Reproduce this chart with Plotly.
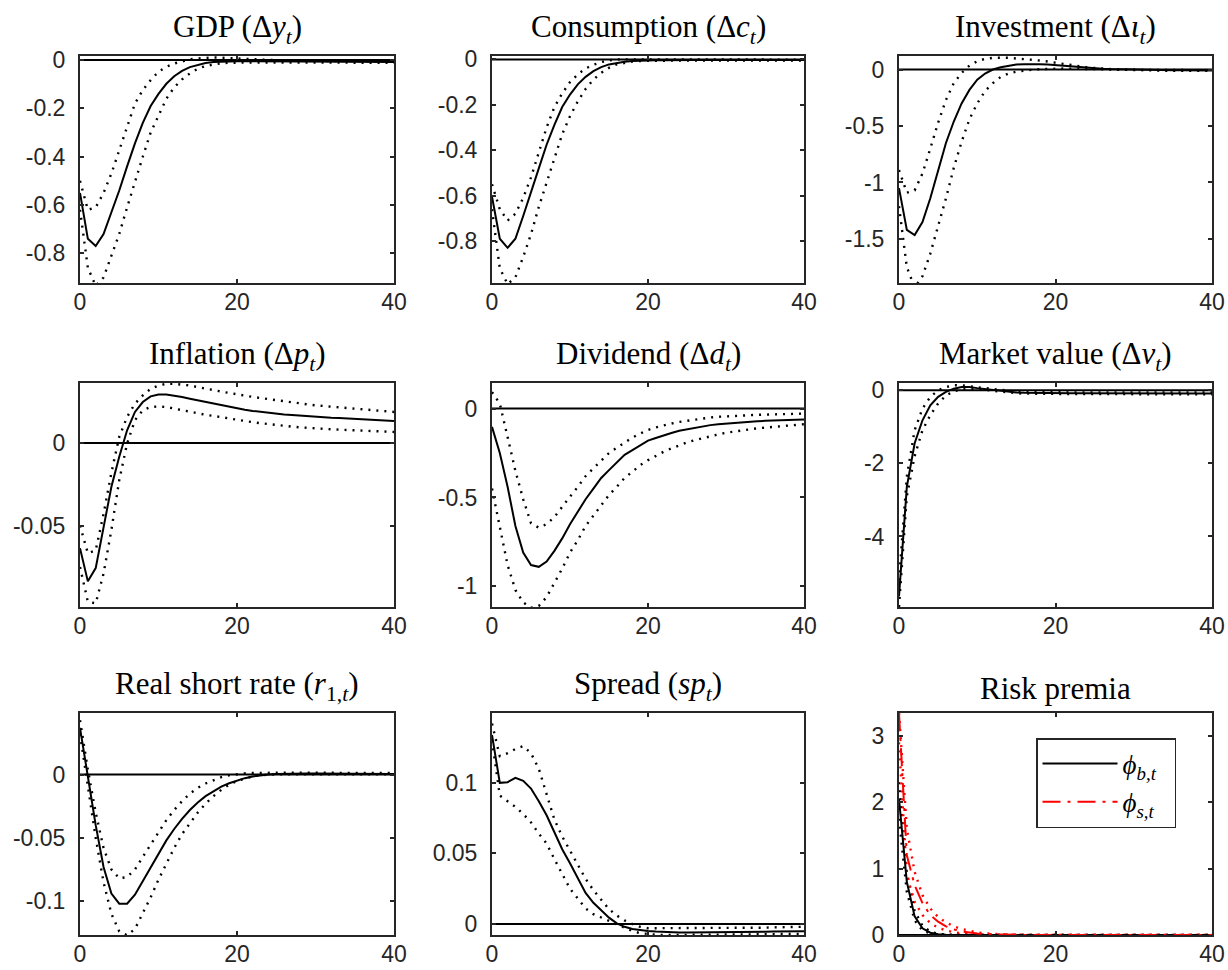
import plotly.graph_objects as go

W, H = 1228, 970
t = list(range(41))

titles = [
    "GDP (Δ<i>y</i><sub><i>t</i></sub>)",
    "Consumption (Δ<i>c</i><sub><i>t</i></sub>)",
    "Investment (Δ<i>ι</i><sub><i>t</i></sub>)",
    "Inflation (Δ<i>p</i><sub><i>t</i></sub>)",
    "Dividend (Δ<i>d</i><sub><i>t</i></sub>)",
    "Market value (Δ<i>v</i><sub><i>t</i></sub>)",
    "Real short rate (<i>r</i><sub>1,<i>t</i></sub>)",
    "Spread (<i>sp</i><sub><i>t</i></sub>)",
    "Risk premia",
]
legend_names = ["<i>ϕ</i><sub><i>b,t</i></sub>&nbsp;&nbsp;", "<i>ϕ</i><sub><i>s,t</i></sub>&nbsp;&nbsp;"]

# ---------------- data (t = 0..40) ----------------
gdp_mid = [-0.55, -0.74, -0.77, -0.72, -0.63, -0.54, -0.44, -0.345, -0.26, -0.19, -0.14, -0.098, -0.067, -0.045, -0.029, -0.019, -0.012, -0.008, -0.006, -0.005, -0.005,
           -0.005, -0.005, -0.006, -0.006, -0.006, -0.006, -0.007, -0.007, -0.007, -0.007, -0.007, -0.007, -0.008, -0.008, -0.008, -0.008, -0.008, -0.008, -0.008, -0.008]
gdp_hi = [-0.50, -0.62, -0.61, -0.55, -0.47, -0.37, -0.27, -0.18, -0.124, -0.083, -0.048, -0.028, -0.014, -0.004, 0.003, 0.007, 0.010, 0.011, 0.010, 0.008, 0.006,
          0.004, 0.003, 0.002, 0.001, 0.0, -0.001, -0.002, -0.002, -0.003, -0.003, -0.004, -0.004, -0.004, -0.005, -0.005, -0.005, -0.005, -0.005, -0.005, -0.005]
gdp_lo = [-0.62, -0.86, -0.935, -0.90, -0.81, -0.72, -0.61, -0.50, -0.40, -0.30, -0.23, -0.16, -0.113, -0.08, -0.055, -0.036, -0.024, -0.017, -0.013, -0.011, -0.010,
          -0.010, -0.010, -0.010, -0.010, -0.010, -0.011, -0.011, -0.011, -0.011, -0.011, -0.011, -0.011, -0.011, -0.011, -0.011, -0.011, -0.011, -0.011, -0.011, -0.011]

con_mid = [-0.605, -0.79, -0.83, -0.79, -0.69, -0.59, -0.48, -0.376, -0.288, -0.21, -0.155, -0.11, -0.077, -0.052, -0.034, -0.022, -0.015, -0.010, -0.007, -0.005, -0.004,
           -0.004, -0.004, -0.003, -0.003, -0.003, -0.003, -0.003, -0.003, -0.003, -0.003, -0.003, -0.003, -0.003, -0.003, -0.003, -0.003, -0.003, -0.003, -0.003, -0.003]
con_hi = [-0.55, -0.66, -0.71, -0.68, -0.61, -0.52, -0.41, -0.30, -0.21, -0.15, -0.10, -0.066, -0.040, -0.024, -0.012, -0.004, 0.0, 0.001, 0.001, 0.0, 0.0,
          0.0, -0.001, -0.001, -0.001, -0.001, -0.001, -0.001, -0.001, -0.001, -0.001, -0.001, -0.001, -0.001, -0.001, -0.001, -0.001, -0.001, -0.001, -0.001, -0.001]
con_lo = [-0.66, -0.92, -0.99, -0.96, -0.87, -0.77, -0.65, -0.54, -0.43, -0.33, -0.25, -0.185, -0.13, -0.089, -0.059, -0.037, -0.022, -0.015, -0.009, -0.007, -0.006,
          -0.006, -0.006, -0.005, -0.005, -0.005, -0.005, -0.005, -0.005, -0.005, -0.005, -0.005, -0.005, -0.005, -0.005, -0.005, -0.005, -0.005, -0.005, -0.005, -0.005]

inv_mid = [-1.05, -1.42, -1.465, -1.35, -1.14, -0.89, -0.65, -0.46, -0.30, -0.18, -0.09, -0.035, 0.0, 0.02, 0.035, 0.045, 0.047, 0.05, 0.047, 0.044, 0.038,
           0.033, 0.027, 0.02, 0.015, 0.012, 0.008, 0.005, 0.003, 0.0, -0.002, -0.003, -0.004, -0.005, -0.006, -0.006, -0.007, -0.007, -0.008, -0.008, -0.008]
inv_hi = [-0.89, -1.09, -1.07, -0.92, -0.70, -0.47, -0.27, -0.12, -0.03, 0.035, 0.074, 0.095, 0.104, 0.106, 0.104, 0.098, 0.094, 0.09, 0.08, 0.071, 0.06,
          0.05, 0.038, 0.03, 0.02, 0.014, 0.008, 0.004, 0.0, -0.002, -0.003, -0.004, -0.005, -0.005, -0.005, -0.005, -0.005, -0.005, -0.005, -0.005, -0.005]
inv_lo = [-1.21, -1.75, -1.93, -1.83, -1.63, -1.39, -1.14, -0.87, -0.64, -0.44, -0.30, -0.19, -0.12, -0.065, -0.035, -0.018, -0.008, -0.002, 0.003, 0.006, 0.009,
          0.009, 0.008, 0.006, 0.004, 0.002, 0.0, -0.002, -0.003, -0.005, -0.006, -0.007, -0.008, -0.009, -0.010, -0.010, -0.011, -0.011, -0.012, -0.012, -0.012]

inf_mid = [-0.0637, -0.0837, -0.0757, -0.0506, -0.0265, -0.0084, 0.0076, 0.0187, 0.0247, 0.0281, 0.0293, 0.0293, 0.0287, 0.0277, 0.0267, 0.0257, 0.0247, 0.0237, 0.0227, 0.0217, 0.0207,
           0.0200, 0.0193, 0.0187, 0.0182, 0.0177, 0.0172, 0.0168, 0.0164, 0.0160, 0.0157, 0.0155, 0.0152, 0.0150, 0.0147, 0.0145, 0.0143, 0.0141, 0.0139, 0.0136, 0.0133]
inf_hi = [-0.050, -0.0667, -0.065, -0.043, -0.018, 0.0036, 0.0157, 0.0237, 0.0287, 0.0327, 0.0347, 0.0357, 0.0357, 0.0353, 0.0347, 0.0337, 0.0327, 0.0317, 0.0310, 0.0302, 0.0293,
          0.0285, 0.0278, 0.0271, 0.0264, 0.0257, 0.0251, 0.0245, 0.0239, 0.0233, 0.0227, 0.0223, 0.0219, 0.0215, 0.0211, 0.0207, 0.0203, 0.0199, 0.0195, 0.0191, 0.0187]
inf_lo = [-0.075, -0.096, -0.097, -0.079, -0.0526, -0.0225, -0.0004, 0.0137, 0.0197, 0.0217, 0.0220, 0.0217, 0.0207, 0.0197, 0.0187, 0.0177, 0.0170, 0.0163, 0.0155, 0.0146, 0.0137,
          0.0131, 0.0125, 0.0119, 0.0113, 0.0106, 0.0102, 0.0098, 0.0094, 0.0090, 0.0086, 0.0084, 0.0082, 0.0080, 0.0078, 0.0076, 0.0074, 0.0072, 0.0070, 0.0068, 0.0066]

div_mid = [-0.103, -0.25, -0.44, -0.66, -0.81, -0.88, -0.89, -0.86, -0.80, -0.73, -0.65, -0.58, -0.51, -0.45, -0.39, -0.346, -0.30, -0.26, -0.234, -0.206, -0.18,
           -0.165, -0.15, -0.137, -0.125, -0.116, -0.107, -0.10, -0.093, -0.088, -0.084, -0.08, -0.077, -0.074, -0.071, -0.069, -0.067, -0.065, -0.064, -0.063, -0.062]
div_hi = [0.093, 0.028, -0.16, -0.35, -0.51, -0.645, -0.67, -0.65, -0.61, -0.55, -0.495, -0.44, -0.38, -0.336, -0.29, -0.25, -0.22, -0.19, -0.163, -0.14, -0.12,
          -0.106, -0.093, -0.084, -0.075, -0.068, -0.062, -0.056, -0.05, -0.046, -0.043, -0.041, -0.039, -0.037, -0.035, -0.034, -0.032, -0.031, -0.03, -0.029, -0.028]
div_lo = [-0.45, -0.66, -0.88, -1.02, -1.09, -1.12, -1.11, -1.06, -0.98, -0.90, -0.81, -0.74, -0.66, -0.60, -0.54, -0.486, -0.44, -0.39, -0.355, -0.318, -0.29,
          -0.266, -0.243, -0.224, -0.206, -0.19, -0.178, -0.166, -0.155, -0.145, -0.136, -0.129, -0.122, -0.116, -0.111, -0.107, -0.103, -0.099, -0.095, -0.091, -0.088]

mv_mid = [-5.64, -2.64, -1.45, -0.82, -0.41, -0.18, -0.045, 0.045, 0.09, 0.09, 0.06, 0.035, 0.0, -0.02, -0.045, -0.06, -0.07, -0.075, -0.08, -0.08, -0.08,
          -0.08, -0.082, -0.082, -0.083, -0.083, -0.084, -0.084, -0.084, -0.085, -0.085, -0.085, -0.085, -0.085, -0.085, -0.085, -0.085, -0.085, -0.085, -0.085, -0.085]
mv_hi = [-5.2, -2.36, -1.09, -0.5, -0.18, 0.0, 0.09, 0.14, 0.14, 0.12, 0.09, 0.06, 0.036, 0.01, -0.02, -0.035, -0.045, -0.05, -0.055, -0.055, -0.055,
         -0.055, -0.056, -0.056, -0.057, -0.057, -0.058, -0.058, -0.058, -0.059, -0.059, -0.059, -0.06, -0.06, -0.06, -0.06, -0.06, -0.06, -0.06, -0.06, -0.06]
mv_lo = [-5.93, -2.9, -1.8, -1.09, -0.68, -0.36, -0.14, -0.03, 0.027, 0.045, 0.035, 0.01, -0.015, -0.04, -0.064, -0.08, -0.09, -0.095, -0.1, -0.1, -0.1,
         -0.1, -0.102, -0.103, -0.104, -0.105, -0.105, -0.106, -0.106, -0.107, -0.107, -0.108, -0.108, -0.109, -0.109, -0.109, -0.11, -0.11, -0.11, -0.11, -0.11]

rr_mid = [0.037, -0.003, -0.040, -0.073, -0.094, -0.102, -0.102, -0.095, -0.084, -0.073, -0.062, -0.052, -0.043, -0.035, -0.028, -0.022, -0.017, -0.013, -0.0095, -0.0068, -0.0045,
          -0.0028, -0.0015, -0.0006, 0.0, 0.0004, 0.0006, 0.0008, 0.0008, 0.0008, 0.0008, 0.0008, 0.0008, 0.0007, 0.0007, 0.0007, 0.0006, 0.0006, 0.0006, 0.0005, 0.0005]
rr_hi = [0.043, 0.004, -0.030, -0.058, -0.075, -0.082, -0.081, -0.075, -0.065, -0.055, -0.045, -0.036, -0.028, -0.021, -0.015, -0.0105, -0.007, -0.0042, -0.002, -0.0005, 0.0005,
         0.001, 0.0013, 0.0015, 0.0015, 0.0015, 0.0015, 0.0015, 0.0015, 0.0015, 0.0014, 0.0014, 0.0014, 0.0014, 0.0014, 0.0013, 0.0013, 0.0013, 0.0013, 0.0013, 0.0013]
rr_lo = [0.032, -0.009, -0.050, -0.085, -0.110, -0.124, -0.127, -0.122, -0.110, -0.097, -0.083, -0.070, -0.058, -0.047, -0.038, -0.030, -0.023, -0.017, -0.012, -0.008, -0.005,
         -0.003, -0.0015, -0.0005, 0.0, 0.0003, 0.0003, 0.0003, 0.0003, 0.0003, 0.0003, 0.0003, 0.0003, 0.0003, 0.0003, 0.0003, 0.0003, 0.0003, 0.0003, 0.0003, 0.0003]

sp_mid = [0.134, 0.100, 0.1005, 0.1035, 0.1014, 0.096, 0.087, 0.077, 0.065, 0.053, 0.043, 0.032, 0.022, 0.015, 0.0095, 0.0045, 0.0005, -0.002, -0.0035, -0.0045, -0.005,
          -0.0054, -0.0057, -0.0059, -0.006, -0.006, -0.006, -0.006, -0.006, -0.006, -0.0059, -0.0058, -0.0057, -0.0056, -0.0055, -0.0055, -0.0054, -0.0053, -0.0053, -0.0052, -0.0052]
sp_hi = [0.142, 0.119, 0.121, 0.124, 0.126, 0.121, 0.110, 0.092, 0.074, 0.062, 0.052, 0.041, 0.032, 0.024, 0.017, 0.0105, 0.006, 0.0025, 0.0, -0.002, -0.003,
         -0.003, -0.003, -0.003, -0.003, -0.003, -0.003, -0.003, -0.003, -0.003, -0.003, -0.003, -0.003, -0.003, -0.0028, -0.0026, -0.0024, -0.0022, -0.0021, -0.002, -0.002]
sp_lo = [0.130, 0.091, 0.087, 0.083, 0.078, 0.072, 0.064, 0.057, 0.046, 0.035, 0.025, 0.018, 0.011, 0.007, 0.0045, 0.002, -0.0005, -0.003, -0.005, -0.0065, -0.0073,
         -0.0076, -0.0078, -0.0078, -0.0078, -0.0078, -0.0078, -0.0078, -0.0078, -0.0078, -0.0077, -0.0076, -0.0075, -0.0074, -0.0073, -0.0072, -0.0071, -0.0071, -0.007, -0.007, -0.007]

phib_mid = [2.05, 0.80, 0.28, 0.10, 0.035, 0.012, 0.004, 0.001, 0.0, 0.0, 0.0, 0.0, 0.0, 0.0, 0.0, 0.0, 0.0, 0.0, 0.0, 0.0, 0.0,
            0.0, 0.0, 0.0, 0.0, 0.0, 0.0, 0.0, 0.0, 0.0, 0.0, 0.0, 0.0, 0.0, 0.0, 0.0, 0.0, 0.0, 0.0, 0.0, 0.0]
phib_hi = [2.30, 0.95, 0.36, 0.14, 0.05, 0.018, 0.006, 0.002, 0.0, 0.0, 0.0, 0.0, 0.0, 0.0, 0.0, 0.0, 0.0, 0.0, 0.0, 0.0, 0.0,
           0.0, 0.0, 0.0, 0.0, 0.0, 0.0, 0.0, 0.0, 0.0, 0.0, 0.0, 0.0, 0.0, 0.0, 0.0, 0.0, 0.0, 0.0, 0.0, 0.0]
phib_lo = [1.75, 0.65, 0.22, 0.07, 0.022, 0.007, 0.002, 0.0, 0.0, 0.0, 0.0, 0.0, 0.0, 0.0, 0.0, 0.0, 0.0, 0.0, 0.0, 0.0, 0.0,
           0.0, 0.0, 0.0, 0.0, 0.0, 0.0, 0.0, 0.0, 0.0, 0.0, 0.0, 0.0, 0.0, 0.0, 0.0, 0.0, 0.0, 0.0, 0.0, 0.0]
phis_mid = [3.34, 1.20, 0.75, 0.48, 0.30, 0.20, 0.13, 0.085, 0.055, 0.035, 0.022, 0.014, 0.009, 0.005, 0.003, 0.002, 0.001, 0.0, 0.0, 0.0, 0.0,
            0.0, 0.0, 0.0, 0.0, 0.0, 0.0, 0.0, 0.0, 0.0, 0.0, 0.0, 0.0, 0.0, 0.0, 0.0, 0.0, 0.0, 0.0, 0.0, 0.0]
phis_hi = [3.34, 1.60, 0.95, 0.60, 0.40, 0.27, 0.19, 0.13, 0.09, 0.06, 0.04, 0.025, 0.015, 0.01, 0.006, 0.003, 0.001, 0.0, 0.0, 0.0, 0.0,
           0.0, 0.0, 0.0, 0.0, 0.0, 0.0, 0.0, 0.0, 0.0, 0.0, 0.0, 0.0, 0.0, 0.0, 0.0, 0.0, 0.0, 0.0, 0.0, 0.0]
phis_lo = [2.90, 0.90, 0.50, 0.30, 0.18, 0.11, 0.07, 0.04, 0.025, 0.015, 0.008, 0.004, 0.002, 0.001, 0.0, 0.0, 0.0, 0.0, 0.0, 0.0, 0.0,
           0.0, 0.0, 0.0, 0.0, 0.0, 0.0, 0.0, 0.0, 0.0, 0.0, 0.0, 0.0, 0.0, 0.0, 0.0, 0.0, 0.0, 0.0, 0.0, 0.0]

# y ranges and ticks per panel
y_ranges = [[-0.923, 0.017], [-0.985, 0.015], [-1.89, 0.12],
            [-0.0992, 0.0362], [-1.116, 0.144], [-5.93, 0.2],
            [-0.1268, 0.0487], [-0.0078, 0.1495], [0.0, 3.343]]
y_tickvals = [[0, -0.2, -0.4, -0.6, -0.8], [0, -0.2, -0.4, -0.6, -0.8], [0, -0.5, -1, -1.5],
              [0, -0.05, -0.1], [0, -0.5, -1], [0, -2, -4],
              [0, -0.05, -0.1], [0, 0.05, 0.1], [0, 1, 2, 3]]
y_ticktext = [["0", "-0.2", "-0.4", "-0.6", "-0.8"], ["0", "-0.2", "-0.4", "-0.6", "-0.8"], ["0", "-0.5", "-1", "-1.5"],
              ["0", "-0.05", "-0.1"], ["0", "-0.5", "-1"], ["0", "-2", "-4"],
              ["0", "-0.05", "-0.1"], ["0", "0.05", "0.1"], ["0", "1", "2", "3"]]
x_tickvals = [0, 20, 40]
x_ticktext = ["0", "20", "40"]

panels = [
    (gdp_mid, gdp_hi, gdp_lo), (con_mid, con_hi, con_lo), (inv_mid, inv_hi, inv_lo),
    (inf_mid, inf_hi, inf_lo), (div_mid, div_hi, div_lo), (mv_mid, mv_hi, mv_lo),
    (rr_mid, rr_hi, rr_lo), (sp_mid, sp_hi, sp_lo),
]

# ---------------- layout geometry (pixels) ----------------
cols_px = [(80, 394), (492, 804), (899, 1212)]
rows_px = [(56, 283), (383, 607), (713, 935)]

AX = "#262626"
fig = go.Figure()
layout = dict(
    width=W, height=H, margin=dict(l=0, r=0, t=0, b=0, autoexpand=False),
    paper_bgcolor="white", plot_bgcolor="white",
    showlegend=True,
    legend=dict(x=1036 / W, y=1 - 738 / H, xanchor="left", yanchor="top",
                bordercolor=AX, borderwidth=1.5, bgcolor="white",
                font=dict(family="Liberation Serif", size=27, color="black"),
                itemwidth=75, tracegroupgap=0),
)
annotations = []
tickfont = dict(family="Liberation Sans, Arial", size=23, color=AX)
dot_dash = "2px,6px"

for k in range(9):
    r, c = divmod(k, 3)
    x0, x1 = cols_px[c]
    y0, y1 = rows_px[r]
    sfx = "" if k == 0 else str(k + 1)
    xa, ya = "x" + sfx, "y" + sfx
    layout["xaxis" + sfx] = dict(
        domain=[x0 / W, x1 / W], range=[0, 40], anchor=ya, automargin=False,
        tickmode="array", tickvals=x_tickvals, ticktext=x_ticktext,
        ticks="inside", ticklen=4, tickwidth=1.5, tickcolor=AX,
        showline=True, linecolor=AX, linewidth=2, mirror="allticks",
        showgrid=False, zeroline=False, tickfont=tickfont, ticklabelstandoff=-3,
    )
    layout["yaxis" + sfx] = dict(
        domain=[1 - y1 / H, 1 - y0 / H], range=y_ranges[k], anchor=xa, automargin=False,
        tickmode="array", tickvals=y_tickvals[k], ticktext=y_ticktext[k],
        ticks="inside", ticklen=4, tickwidth=1.5, tickcolor=AX,
        showline=True, linecolor=AX, linewidth=2, mirror="allticks",
        showgrid=False, zeroline=False, tickfont=tickfont, ticklabelstandoff=8,
    )
    annotations.append(dict(
        text=titles[k], x=(x0 + x1) / 2 / W, y=1 - y0 / H, xref="paper", yref="paper",
        xanchor="center", yanchor="bottom", yshift=5, showarrow=False,
        font=dict(family="Liberation Serif", size=31, color="black"),
    ))
    # zero line
    fig.add_trace(go.Scatter(x=[0, 40], y=[0, 0], mode="lines", xaxis=xa, yaxis=ya,
                             line=dict(color="black", width=2), showlegend=False, hoverinfo="skip"))
    if k < 8:
        mid, hi, lo = panels[k]
        for band in (hi, lo):
            fig.add_trace(go.Scatter(x=t, y=band, mode="lines", xaxis=xa, yaxis=ya,
                                     line=dict(color="black", width=2.4, dash=dot_dash),
                                     showlegend=False, hoverinfo="skip"))
        fig.add_trace(go.Scatter(x=t, y=mid, mode="lines", xaxis=xa, yaxis=ya,
                                 line=dict(color="black", width=2), showlegend=False))
    else:
        for band in (phib_hi, phib_lo):
            fig.add_trace(go.Scatter(x=t, y=band, mode="lines", xaxis=xa, yaxis=ya,
                                     line=dict(color="black", width=2.4, dash=dot_dash),
                                     showlegend=False, hoverinfo="skip"))
        for band in (phis_hi, phis_lo):
            fig.add_trace(go.Scatter(x=t, y=band, mode="lines", xaxis=xa, yaxis=ya,
                                     line=dict(color="red", width=2.4, dash=dot_dash),
                                     showlegend=False, hoverinfo="skip"))
        fig.add_trace(go.Scatter(x=t, y=phib_mid, mode="lines", xaxis=xa, yaxis=ya,
                                 line=dict(color="black", width=2), name=legend_names[0]))
        fig.add_trace(go.Scatter(x=t, y=phis_mid, mode="lines", xaxis=xa, yaxis=ya,
                                 line=dict(color="red", width=2, dash="18px,7px,3px,7px"),
                                 name=legend_names[1]))

layout["annotations"] = annotations
fig.update_layout(**layout)
fig.write_html("out.html", config={"displayModeBar": False},
               post_script="document.body.style.margin='0';document.body.style.overflow='hidden';")
